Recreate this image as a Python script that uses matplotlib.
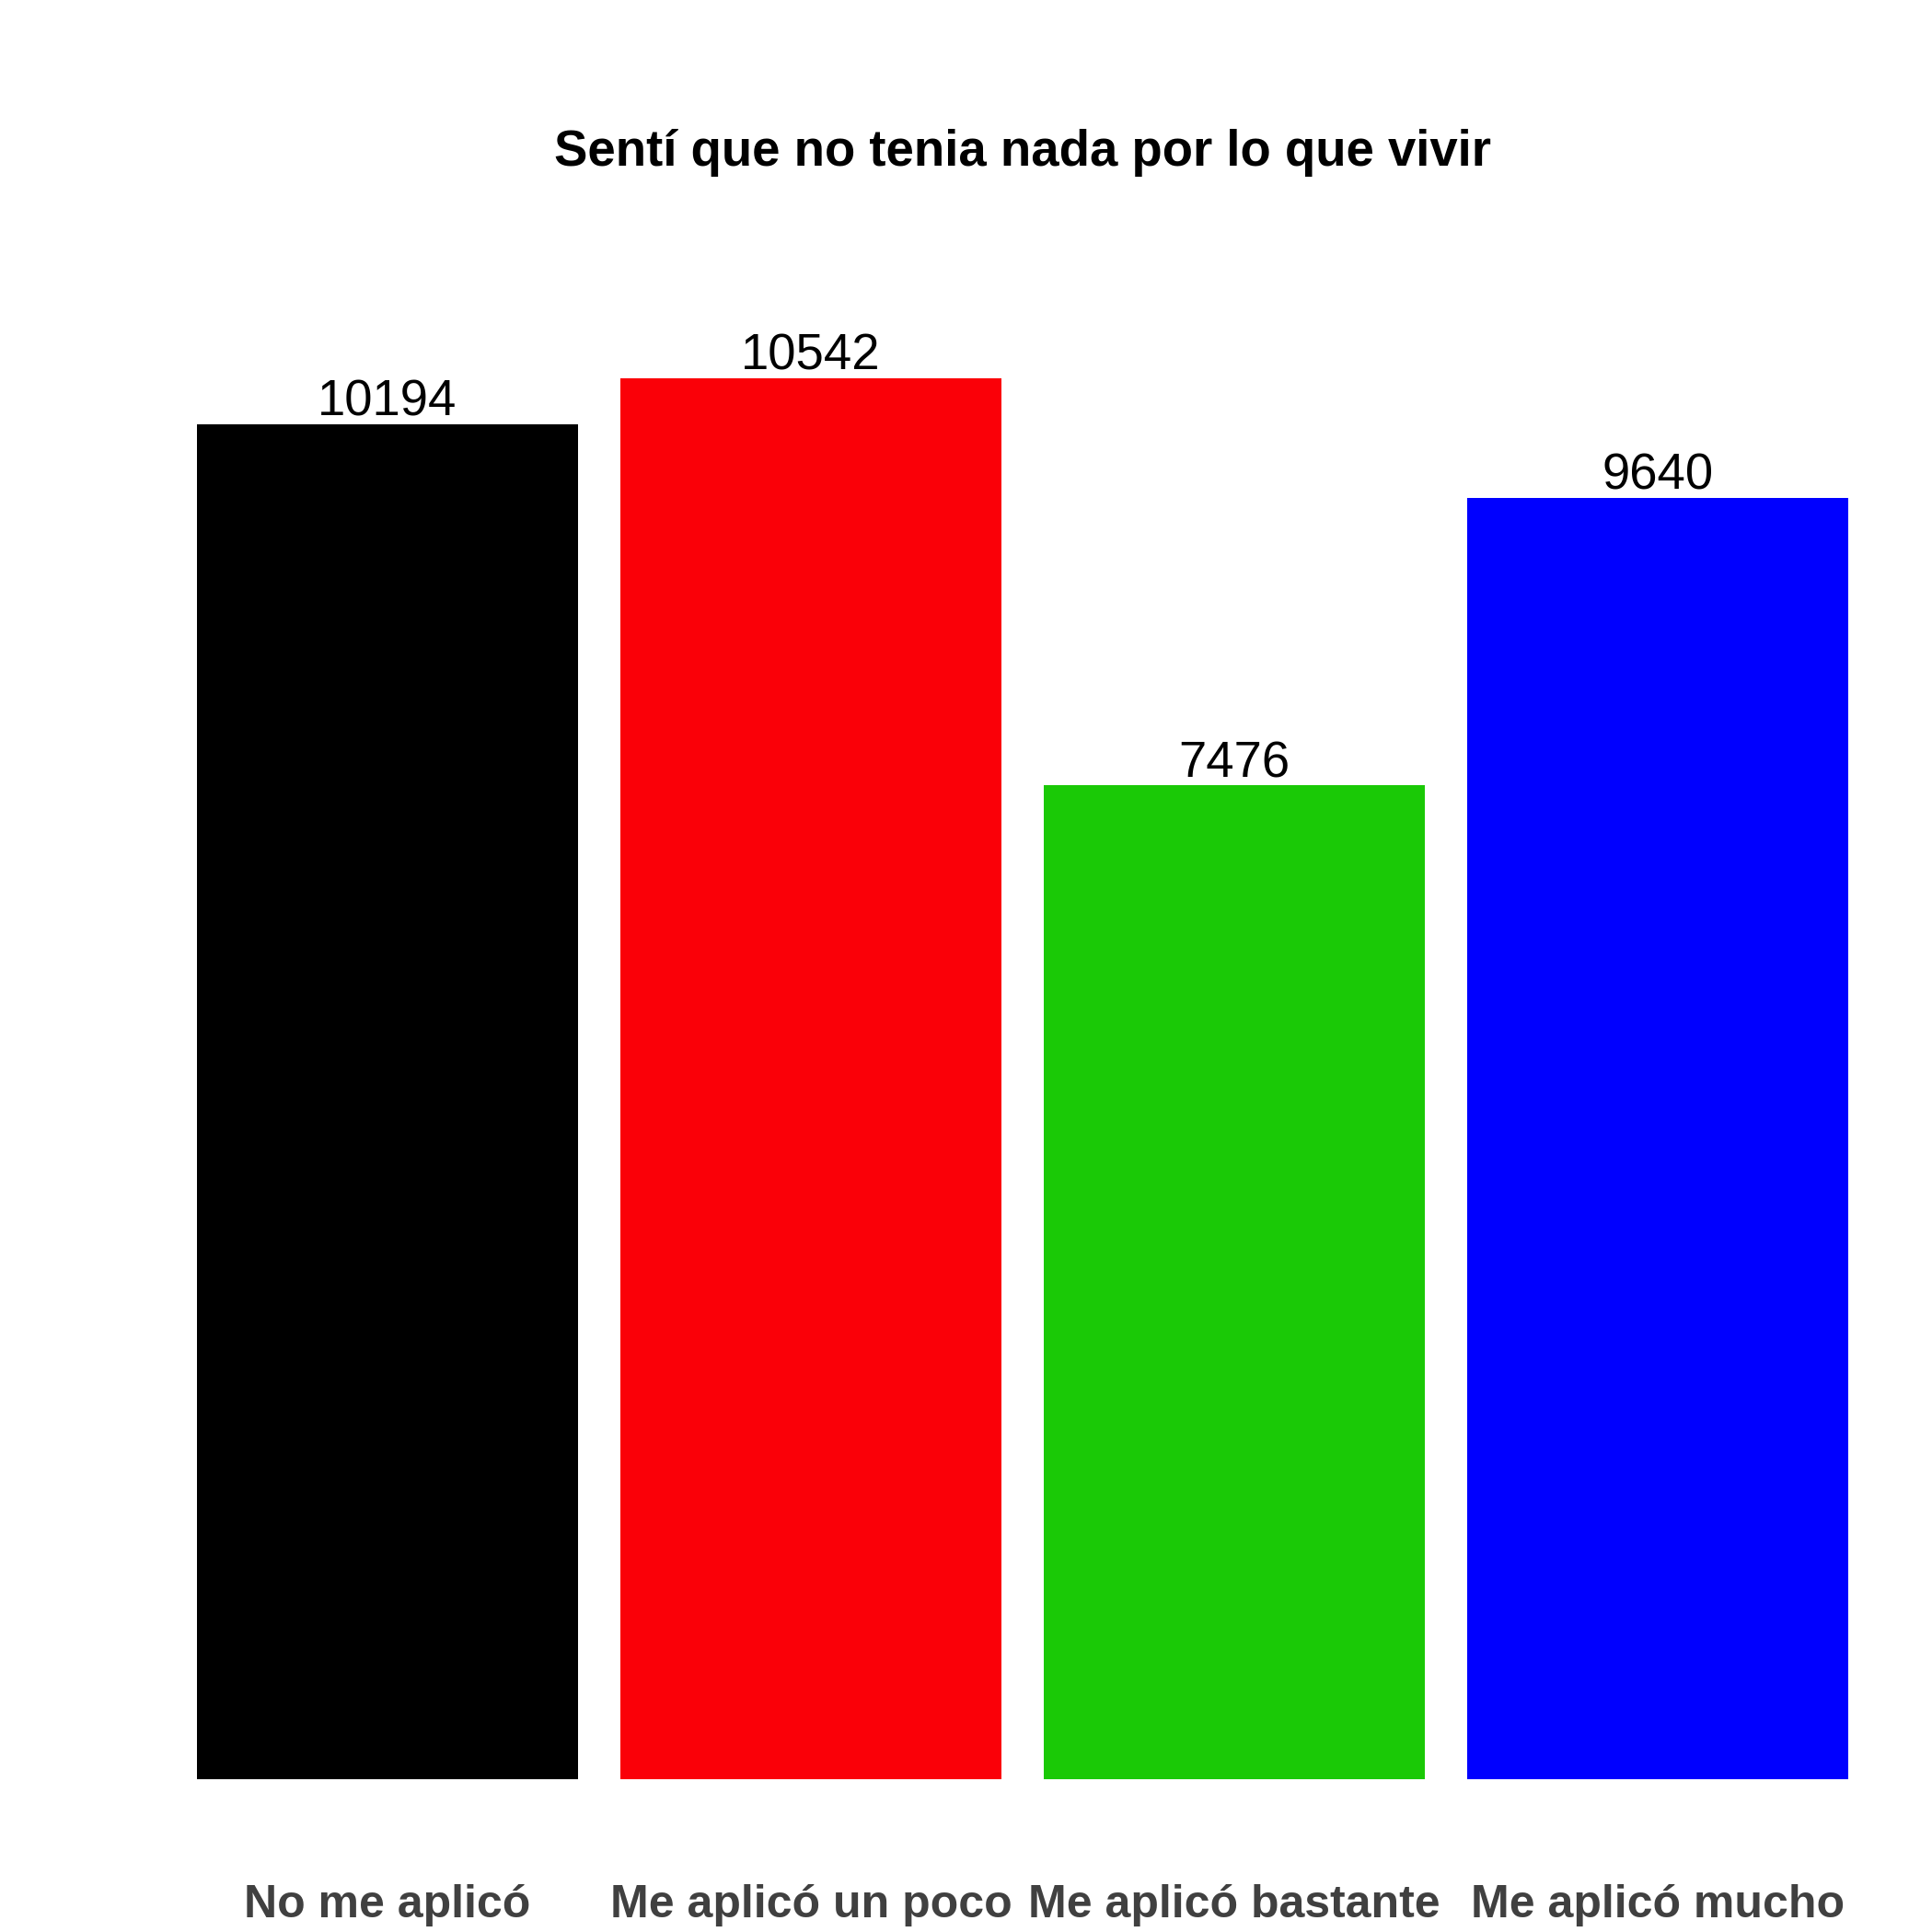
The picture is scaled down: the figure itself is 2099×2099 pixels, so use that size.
import matplotlib
matplotlib.use("Agg")
import matplotlib.pyplot as plt

plt.rcParams["font.family"] = ["Liberation Sans", "DejaVu Sans"]

# data
categories = ["No me aplicó", "Me aplicó un poco", "Me aplicó bastante", "Me aplicó mucho"]
counts = [10194, 10542, 7476, 9640]
colors = ["#000000", "#fa0008", "#1ac906", "#0000ff"]
title = "Sentí que no tenia nada por lo que vivir"

W = H = 2099
fig = plt.figure(figsize=(W / 300, H / 300), dpi=300)
bottom_px, top_px = 1932.7, 250
ax = fig.add_axes([145 / W, (H - bottom_px) / H, (2077 - 145) / W, (bottom_px - top_px) / H])

x = list(range(1, len(categories) + 1))
ax.bar(x, counts, width=0.9, color=colors)

for xi, v in zip(x, counts):
    ax.annotate(str(v), xy=(xi, v), xytext=(0, 2.2), textcoords="offset points",
                ha="center", va="baseline", fontsize=13.1, color="black")

for xi, lab in zip(x, categories):
    ax.annotate(lab, xy=(xi, 0), xycoords=("data", "axes fraction"),
                xytext=(0, -36), textcoords="offset points",
                ha="center", va="baseline", fontsize=12, fontweight="bold",
                color="#404040")

ax.set_xlim(0.4, 4.6)
ax.set_ylim(0, (bottom_px - top_px) / 0.14437)
ax.axis("off")

fig.text(1111 / W, 1 - 180 / H, title, ha="center", va="baseline",
         fontsize=13.1, fontweight="bold")

fig.savefig("out.png", dpi=300, facecolor="white")
